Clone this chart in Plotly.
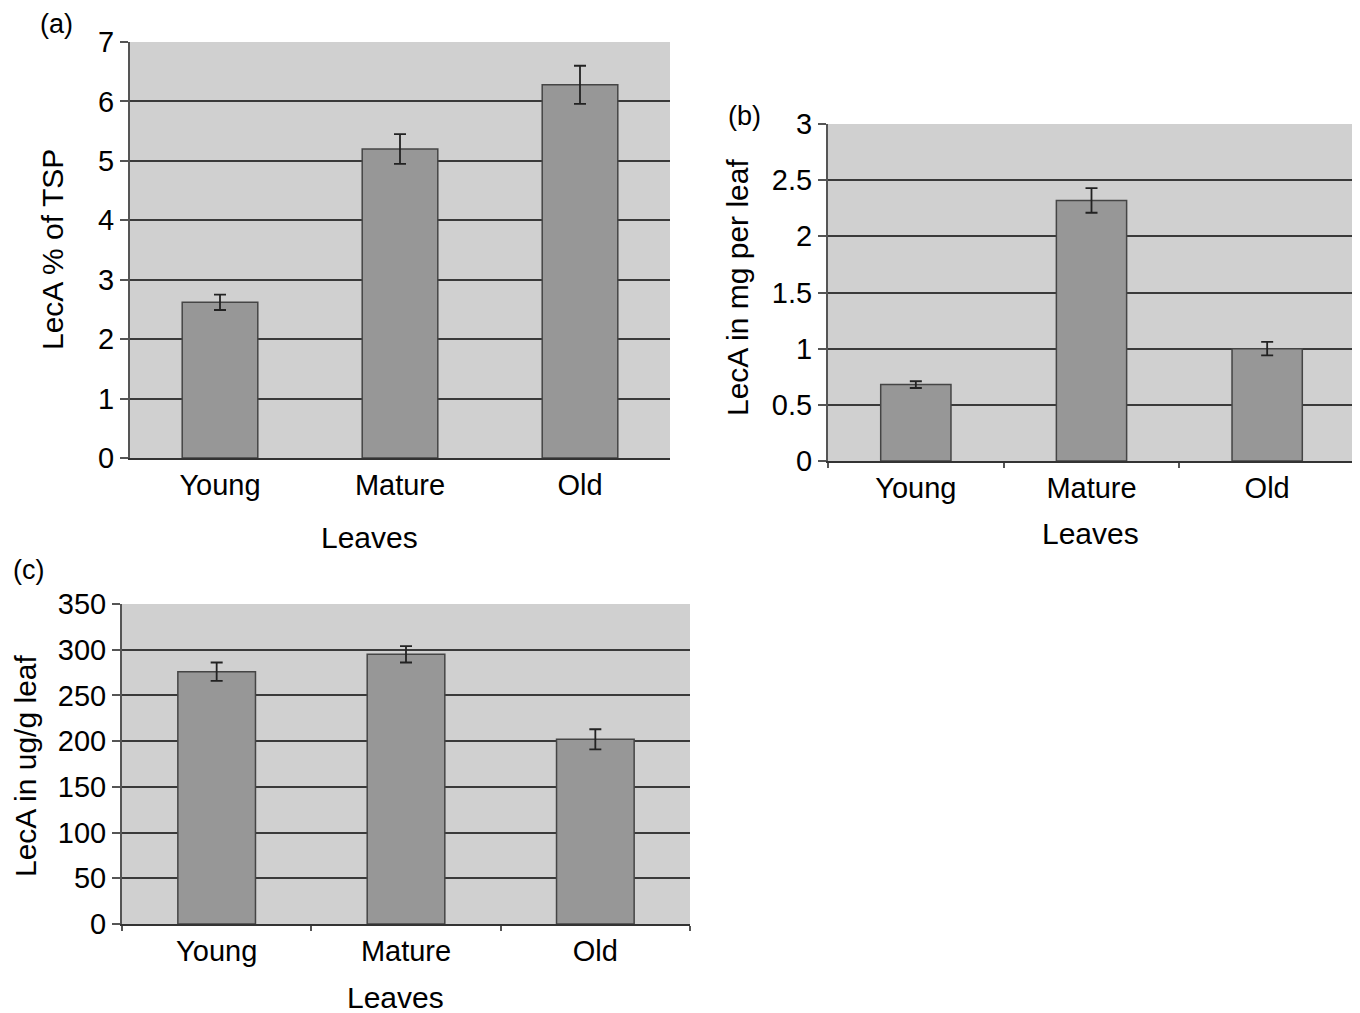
import plotly.graph_objects as go

categories = ["Young", "Mature", "Old"]

a_values = [2.62, 5.2, 6.28]
a_errors = [0.13, 0.25, 0.32]
a_ticks = [0, 1, 2, 3, 4, 5, 6, 7]

b_values = [0.68, 2.32, 1.0]
b_errors = [0.03, 0.11, 0.06]
b_ticks = [0, 0.5, 1, 1.5, 2, 2.5, 3]

c_values = [276, 295, 202]
c_errors = [10, 9, 11]
c_ticks = [0, 50, 100, 150, 200, 250, 300, 350]

W, H = 1360, 1013
OFF = 8  # page body margin
FONT = "Liberation Sans, Arial, sans-serif"
BAR = "#979797"
BAR_LINE = "#454545"
PLOT_BG = "#d0d0d0"
GRID = "#3a3a3a"
FS = 29

def xd(x0, x1):
    return [(x0 - OFF) / W, (x1 - OFF) / W]

def yd(top, bottom):
    return [1 - (bottom - OFF) / H, 1 - (top - OFF) / H]

fig = go.Figure()

panels = [
    ("x", "y", a_values, a_errors, 0.42),
    ("x2", "y2", b_values, b_errors, 0.40),
    ("x3", "y3", c_values, c_errors, 0.41),
]
for xa, ya, vals, errs, w in panels:
    fig.add_trace(go.Bar(
        x=categories, y=vals, xaxis=xa, yaxis=ya, width=w,
        marker=dict(color=BAR, line=dict(color=BAR_LINE, width=1.5)),
        error_y=dict(type="data", array=errs, visible=True,
                     color="#222222", thickness=1.8, width=6),
        showlegend=False,
    ))

def yaxis(domain, rng, ticks, anchor):
    return dict(
        domain=domain, range=rng, tickvals=ticks, anchor=anchor,
        automargin=False,
        showgrid=True, gridcolor=GRID, gridwidth=2,
        showline=True, linecolor="#555555", linewidth=2,
        ticks="outside", ticklen=8, tickcolor="#555555", tickwidth=2,
        tickfont=dict(family=FONT, size=FS, color="black"),
        zeroline=False, fixedrange=True,
    )

def xaxis(domain, anchor, ticks_on):
    return dict(
        domain=domain, anchor=anchor, type="category",
        automargin=False,
        showline=True, linecolor="#333333", linewidth=2,
        ticks="outside" if ticks_on else "", tickson="boundaries",
        ticklen=5, tickcolor="#555555", tickwidth=1.5,
        tickfont=dict(family=FONT, size=FS, color="black"),
        showgrid=False, fixedrange=True,
    )

fig.update_layout(
    width=W, height=H,
    margin=dict(l=0, r=0, t=0, b=0, autoexpand=False),
    paper_bgcolor="white",
    plot_bgcolor=PLOT_BG,
    xaxis=xaxis(xd(130, 670), "y", False),
    yaxis=yaxis(yd(42, 458), [0, 7], a_ticks, "x"),
    xaxis2=xaxis(xd(828, 1355), "y2", True),
    yaxis2=yaxis(yd(124, 461), [0, 3], b_ticks, "x2"),
    xaxis3=xaxis(xd(122, 690), "y3", True),
    yaxis3=yaxis(yd(604, 924), [0, 350], c_ticks, "x3"),
)

def ann(text, x, y, size=FS, angle=0):
    fig.add_annotation(
        text=text, x=(x - OFF) / W, y=1 - (y - OFF) / H,
        xref="paper", yref="paper",
        showarrow=False, textangle=angle, xanchor="center", yanchor="middle",
        font=dict(family=FONT, size=size, color="black"),
    )

# panel labels
ann("(a)", 57, 24, size=27)
ann("(b)", 744, 116, size=27)
ann("(c)", 28, 570, size=27)

# axis titles
ann("Leaves", 369, 537, size=30)
ann("LecA % of TSP", 52, 250, size=30, angle=-90)
ann("Leaves", 1090, 533, size=30)
ann("LecA in mg per leaf", 738, 288, size=30, angle=-90)
ann("Leaves", 395, 997, size=30)
ann("LecA in ug/g leaf", 25, 766, size=30, angle=-90)

fig.write_html("out.html")
